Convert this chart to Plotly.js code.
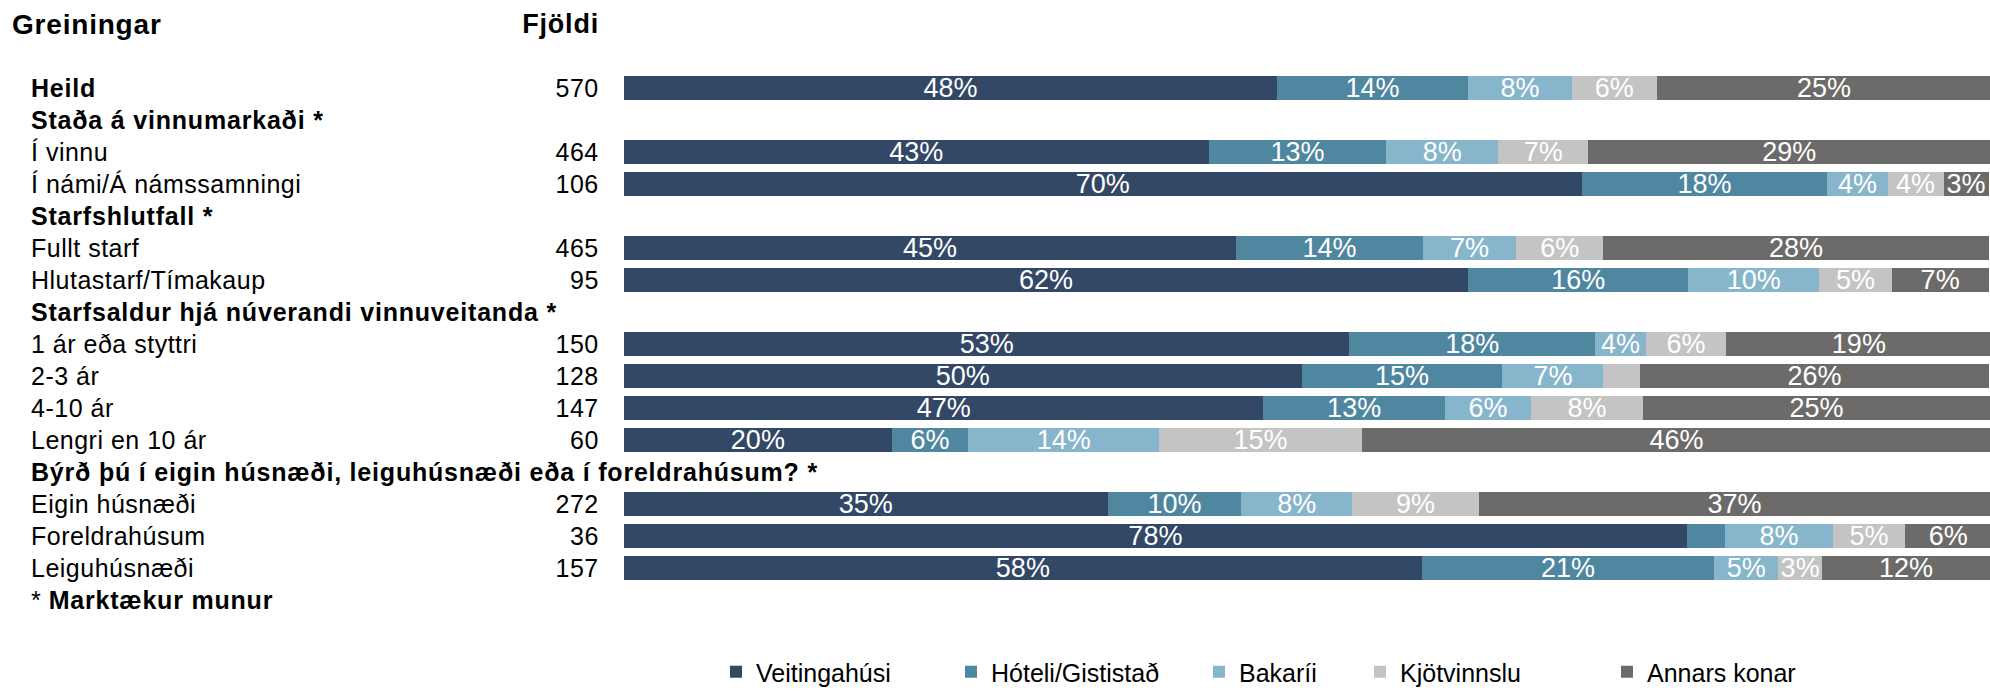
<!DOCTYPE html>
<html>
<head>
<meta charset="utf-8">
<script src="https://cdn.plot.ly/plotly-3.0.1.min.js"></script>
<style>
  html, body { margin: 0; padding: 0; background: #ffffff; }
  #chart { width: 1990px; height: 691px; }
  #chart text.annotation-text { letter-spacing: 0.5px; }
  #chart text.annotation-text tspan[style*="bold"] { letter-spacing: 0.8px; }
</style>
</head>
<body>
<div id="chart"></div>
<script>
// ---- Data ----
var rowLabels = [
  '<b>Heild</b>',
  '<b>Staða á vinnumarkaði *</b>',
  'Í vinnu',
  'Í námi/Á námssamningi',
  '<b>Starfshlutfall *</b>',
  'Fullt starf',
  'Hlutastarf/Tímakaup',
  '<b>Starfsaldur hjá núverandi vinnuveitanda *</b>',
  '1 ár eða styttri',
  '2-3 ár',
  '4-10 ár',
  'Lengri en 10 ár',
  '<b>Býrð þú í eigin húsnæði, leiguhúsnæði eða í foreldrahúsum? *</b>',
  'Eigin húsnæði',
  'Foreldrahúsum',
  'Leiguhúsnæði',
  '* <b>Marktækur munur</b>'
];
var counts = [570, null, 464, 106, null, 465, 95, null, 150, 128, 147, 60, null, 272, 36, 157, null];

var seriesNames = ['Veitingahúsi', 'Hóteli/Gististað', 'Bakaríi', 'Kjötvinnslu', 'Annars konar'];
var veitingahusi = [47.8, null, 42.8, 70.1, null, 44.8, 61.8, null, 53.1, 49.6, 46.8, 19.6, null, 35.4, 77.8, 58.4, null];
var hoteli       = [14.0, null, 13.0, 18.0, null, 13.7, 16.1, null, 18.0, 14.7, 13.3,  5.6, null,  9.8,  2.8, 21.4, null];
var bakarii      = [ 7.6, null,  8.2,  4.4, null,  6.8,  9.6, null,  3.7,  7.4,  6.3, 14.0, null,  8.1,  7.9,  4.7, null];
var kjotvinnslu  = [ 6.2, null,  6.6,  4.1, null,  6.4,  5.3, null,  5.9,  2.7,  8.2, 14.8, null,  9.3,  5.3,  3.2, null];
var annars       = [24.5, null, 29.4,  3.3, null, 28.2,  7.1, null, 19.4, 25.5, 25.4, 46.1, null, 37.4,  6.3, 12.3, null];

var headerTitle = 'Greiningar';
var countTitle = 'Fjöldi';

// ---- Styles ----
var colors = ['#334766', '#4f87a1', '#87b5cb', '#c4c4c4', '#6c6b69'];
var FONT = 'Liberation Sans, Arial, sans-serif';

var W = 1990, H = 691;
var ML = 624, MR = 0, MT = 72, MB = 75;
var plotW = W - ML - MR;
var plotH = H - MT - MB;
function px2paperX(px) { return (px - ML) / plotW; }
function px2paperY(py) { return (MT + plotH - py) / plotH; }

var rowPos = rowLabels.map(function (_, i) { return i; });
var allSeries = [veitingahusi, hoteli, bakarii, kjotvinnslu, annars];
var legendX = [733, 968, 1216, 1377, 1624];

var traces = allSeries.map(function (vals, k) {
  return {
    type: 'bar',
    orientation: 'h',
    name: seriesNames[k],
    x: vals,
    y: rowPos,
    marker: { color: colors[k], line: { width: 0 } },
    text: vals.map(function (v) { return (v === null || v < 3) ? '' : Math.round(v) + '%'; }),
    textposition: 'inside',
    insidetextanchor: 'middle',
    textangle: 0,
    constraintext: 'none',
    insidetextfont: { family: FONT, size: 27, color: '#ffffff' },
    hoverinfo: 'skip',
    legend: k === 0 ? 'legend' : 'legend' + (k + 1)
  };
});

var annotations = [];
rowLabels.forEach(function (lab, i) {
  annotations.push({
    xref: 'paper', yref: 'y', x: px2paperX(29), y: i,
    xanchor: 'left', yanchor: 'middle', align: 'left', showarrow: false,
    text: lab, font: { family: FONT, size: 25, color: '#000000' }
  });
  if (counts[i] !== null) {
    annotations.push({
      xref: 'paper', yref: 'y', x: px2paperX(601), y: i,
      xanchor: 'right', yanchor: 'middle', align: 'right', showarrow: false,
      text: String(counts[i]), font: { family: FONT, size: 25, color: '#000000' }
    });
  }
});
annotations.push({
  xref: 'paper', yref: 'paper', x: px2paperX(10), y: px2paperY(24),
  xanchor: 'left', yanchor: 'middle', align: 'left', showarrow: false,
  text: '<b>' + headerTitle + '</b>', font: { family: FONT, size: 28, color: '#000000' }
});
annotations.push({
  xref: 'paper', yref: 'paper', x: px2paperX(601), y: px2paperY(24),
  xanchor: 'right', yanchor: 'middle', align: 'right', showarrow: false,
  text: '<b>' + countTitle + '</b>', font: { family: FONT, size: 27, color: '#000000' }
});

var layout = {
  width: W, height: H,
  margin: { l: ML, r: MR, t: MT, b: MB, pad: 0, autoexpand: false },
  paper_bgcolor: '#ffffff', plot_bgcolor: '#ffffff',
  barmode: 'stack',
  bargap: 0.23,
  font: { family: FONT, size: 22, color: '#000000' },
  xaxis: { range: [0, 100], visible: false, fixedrange: true },
  yaxis: { range: [rowLabels.length - 0.5, -0.5], visible: false, fixedrange: true },
  annotations: annotations,
  showlegend: true
};
legendX.forEach(function (sx, k) {
  var key = k === 0 ? 'legend' : 'legend' + (k + 1);
  layout[key] = {
    orientation: 'h', xref: 'paper', yref: 'paper',
    x: px2paperX(sx - 17), y: px2paperY(672),
    xanchor: 'left', yanchor: 'middle',
    bgcolor: 'rgba(0,0,0,0)', borderwidth: 0,
    font: { family: FONT, size: 25, color: '#000000' }
  };
});

Plotly.newPlot('chart', traces, layout, { displayModeBar: false, staticPlot: true });
</script>
</body>
</html>
